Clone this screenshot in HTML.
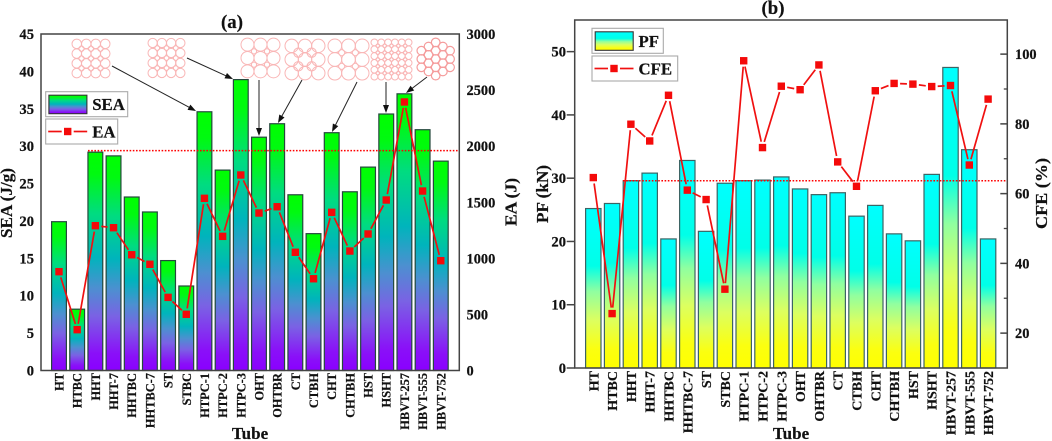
<!DOCTYPE html>
<html>
<head>
<meta charset="utf-8">
<style>
html,body{margin:0;padding:0;background:#fff;width:1052px;height:441px;overflow:hidden}
svg{display:block}
text{font-family:"Liberation Serif",serif;font-weight:bold;fill:#111;stroke:#111;stroke-width:.2}
</style>
</head>
<body>
<svg id="chart" width="1052" height="441" viewBox="0 0 1052 441" xmlns="http://www.w3.org/2000/svg">
<defs>
<linearGradient id="gradA" x1="0" y1="1" x2="0" y2="0">
<stop offset="0" stop-color="#8a00ff"/>
<stop offset="0.08" stop-color="#8a10f8"/>
<stop offset="0.25" stop-color="#7a62e4"/>
<stop offset="0.38" stop-color="#4c90d0"/>
<stop offset="0.52" stop-color="#00b4bc"/>
<stop offset="0.72" stop-color="#00dc80"/>
<stop offset="0.9" stop-color="#00fa10"/>
<stop offset="1" stop-color="#00ff00"/>
</linearGradient>
<linearGradient id="gradB" x1="0" y1="1" x2="0" y2="0">
<stop offset="0" stop-color="#ffff00"/>
<stop offset="0.12" stop-color="#fbff10"/>
<stop offset="0.3" stop-color="#dcff60"/>
<stop offset="0.48" stop-color="#90ffa0"/>
<stop offset="0.64" stop-color="#00ffe8"/>
<stop offset="1" stop-color="#00ffff"/>
</linearGradient>
</defs>
</svg>
<script>
var categories = ["HT","HTBC","HHT","HHT-7","HHTBC","HHTBC-7","ST","STBC","HTPC-1","HTPC-2","HTPC-3","OHT","OHTBR","CT","CTBH","CHT","CHTBH","HST","HSHT","HBVT-257","HBVT-555","HBVT-752"];
var seaValues = [19.9,8.2,29.2,28.7,23.2,21.2,14.7,11.3,34.6,26.8,38.9,31.2,33.0,23.5,18.3,31.8,23.9,27.2,34.3,37.0,32.2,28.0];
var eaValues = [881,364,1291,1273,1032,947,652,501,1535,1196,1743,1404,1460,1054,818,1410,1065,1217,1520,2394,1600,979];
var pfValues = [25.2,26.0,29.6,30.8,20.4,32.8,21.6,29.2,29.6,29.7,30.2,28.3,27.4,27.7,24.0,25.7,21.2,20.1,30.6,47.5,34.5,20.4];
var cfeValues = [64.6,25.6,79.9,75.1,88.2,61.0,58.3,32.6,98.1,73.2,90.8,89.8,96.9,69.1,62.1,89.5,91.6,91.4,90.7,91.0,68.2,87.1];
var seaTicks = [0,5,10,15,20,25,30,35,40,45];
var eaTicks = [0,500,1000,1500,2000,2500,3000];
var pfTicks = [0,10,20,30,40,50];
var cfeTicks = [20,40,60,80,100];
var cfeMinorTicks = [30,50,70,90];
var seaReference = 29.4;
var pfReference = 29.6;

var svg = document.getElementById('chart');
var NS = 'http://www.w3.org/2000/svg';
function el(tag, attrs, parent, txt){
  var e = document.createElementNS(NS, tag);
  for (var k in attrs) e.setAttribute(k, attrs[k]);
  if (txt !== undefined) e.textContent = txt;
  (parent || svg).appendChild(e);
  return e;
}
function linear(d0, d1, r0, r1){ return function(v){ return r0 + (v - d0) * (r1 - r0) / (d1 - d0); }; }
function band(first, step){ return function(i){ return first + i * step; }; }

var AXIS = '#444';

function drawPanel(p){
  var g = el('g', {});
  
  
  var n = categories.length;
  p.bars.forEach(function(v, i){
    var x = p.xs(i), y = p.yL(v);
    var b = el('rect', {x:x - p.bw/2, y:y, width:p.bw, height:p.yL(0) - y, fill:'url(#' + p.grad + ')', stroke:p.barStroke, 'stroke-width':1.2}, g);
    
    
  });
  var ref = el('line', {x1:p.refX0, x2:p.right, y1:p.yL(p.ref), y2:p.yL(p.ref), stroke:'#f00', 'stroke-width':1.5, 'stroke-dasharray':'1.6 1.6'}, g);
  
  

  var frame = el('rect', {x:p.left, y:p.top, width:p.right - p.left, height:p.bottom - p.top, fill:'none', stroke:AXIS, 'stroke-width':1.5}, g);
  
  

  for (var i = 0; i < n - 1; i++){
    var x0 = p.xs(i), y0 = p.yR(p.line[i]), x1 = p.xs(i + 1), y1 = p.yR(p.line[i + 1]);
    var dx = x1 - x0, dy = y1 - y0, len = Math.sqrt(dx*dx + dy*dy), t = 6;
    if (len > 2 * t){
      var seg = el('line', {x1:x0 + dx*t/len, y1:y0 + dy*t/len, x2:x1 - dx*t/len, y2:y1 - dy*t/len, stroke:'#f01010', 'stroke-width':1.7}, g);
      
      
    }
  }
  p.line.forEach(function(v, i){
    var m = el('rect', {x:p.xs(i) - 3.7, y:p.yR(v) - 3.7, width:7.4, height:7.4, fill:'#f40a0a'}, g);
    
    
  });

  categories.forEach(function(c, i){
    var t = el('text', {transform:'translate(' + (p.xs(i) + p.xlOff) + ',' + p.xlTop + ') rotate(-90)', 'text-anchor':'end', 'font-size':p.xlSize}, g, c);
    
    
  });
  p.leftTicks.forEach(function(v){
    var t = el('text', {x:p.leftLabelX, y:p.yL(v) + 5, 'text-anchor':'end', 'font-size':14.6}, g, v);
    
    
    if (p.ticks){
      var k = el('line', {x1:p.left - 8, x2:p.left, y1:p.yL(v), y2:p.yL(v), stroke:AXIS, 'stroke-width':1.5}, g);
      
      
    }
  });
  p.rightTicks.forEach(function(v){
    var t = el('text', {x:p.rightLabelX, y:p.yR(v) + 5, 'font-size':14.4}, g, v);
    
    
    if (p.ticks){
      var k = el('line', {x1:p.right - 7, x2:p.right, y1:p.yR(v), y2:p.yR(v), stroke:AXIS, 'stroke-width':1.5}, g);
      
      
    }
  });
  (p.rightMinor || []).forEach(function(v){
    var k = el('line', {x1:p.right - 3.5, x2:p.right, y1:p.yR(v), y2:p.yR(v), stroke:AXIS, 'stroke-width':1.3}, g);
    
    
  });

  var title = el('text', {x:p.titleX, y:p.titleY, 'text-anchor':'middle', 'font-size':18.8}, g, p.title);
  
  
  var xt = el('text', {x:p.xTitleX, y:439, 'text-anchor':'middle', 'font-size':17}, g, 'Tube');
  
  
  var yl = el('text', {transform:'translate(' + p.yLTitle[0] + ',' + p.yLTitle[1] + ') rotate(-90)', 'text-anchor':'middle', 'font-size':16.5, textLength:p.yLTitle[2], lengthAdjust:'spacingAndGlyphs'}, g, p.yLText);
  
  
  var yr = el('text', {transform:'translate(' + p.yRTitle[0] + ',' + p.yRTitle[1] + ') rotate(-90)', 'text-anchor':'middle', 'font-size':16.5, textLength:p.yRTitle[2], lengthAdjust:'spacingAndGlyphs'}, g, p.yRText);
  
  

  var L = p.legend;
  var lb1 = el('rect', {x:L.x, y:L.y1, width:L.w1, height:L.h1, fill:'#fff', stroke:'#aaa', 'stroke-width':1.1}, g);
  
  
  var sw = el('rect', {x:L.x + 3.2, y:L.y1 + 3.5, width:38, height:18.5, fill:'url(#' + p.grad + ')', stroke:'#333', 'stroke-width':1.1}, g);
  
  
  var lt1 = el('text', {x:L.x + 46.5, y:L.y1 + 18.5, 'font-size':16.8}, g, L.t1);
  
  
  var lb2 = el('rect', {x:L.x, y:L.y2, width:L.w2, height:L.h1, fill:'#fff', stroke:'#aaa', 'stroke-width':1.1}, g);
  
  
  var ly = L.y2 + 12.5, mx = L.x + 22;
  var ll1 = el('line', {x1:L.x + 2.5, x2:mx - 6, y1:ly, y2:ly, stroke:'#f01010', 'stroke-width':1.7}, g);
  
  
  var ll2 = el('line', {x1:mx + 6, x2:L.x + 41.5, y1:ly, y2:ly, stroke:'#f01010', 'stroke-width':1.7}, g);
  
  
  var lm = el('rect', {x:mx - 3.7, y:ly - 3.7, width:7.4, height:7.4, fill:'#f40a0a'}, g);
  
  
  var lt2 = el('text', {x:L.x + 46.5, y:L.y2 + 18.5, 'font-size':16.8}, g, L.t2);
  
  
}

drawPanel({
  id:'panel-a', title:'(a)', titleX:232, titleY:28, grad:'gradA', barStroke:'#24483c',
  left:41, right:459.3, top:34, bottom:370.5,
  xs:band(59, 18.18), bw:14.8,
  yL:linear(0, 45, 370.5, 34), yR:linear(0, 3000, 370.5, 34),
  bars:seaValues, line:eaValues, ref:seaReference, refX0:88,
  leftTicks:seaTicks, rightTicks:eaTicks, leftLabelX:34, rightLabelX:466.5, ticks:false,
  xlOff:4.5, xlTop:373, xlSize:12.4, xTitleX:250,
  yLText:'SEA (J/g)', yLTitle:[12,203,70], yRText:'EA (J)', yRTitle:[516.5,202,48],
  legend:{x:45.7, y1:91.7, w1:82, h1:25, y2:119, w2:72, t1:'SEA', t2:'EA'}
});
drawPanel({
  id:'panel-b', title:'(b)', titleX:773, titleY:14, grad:'gradB', barStroke:'#3c6464',
  left:574.7, right:1007.3, top:20, bottom:368,
  xs:band(593.3, 18.8), bw:15.4,
  yL:linear(0, 55, 368, 20), yR:linear(10, 110, 368, 19.25),
  bars:pfValues, line:cfeValues, ref:pfReference, refX0:623,
  leftTicks:pfTicks, rightTicks:cfeTicks, rightMinor:cfeMinorTicks, leftLabelX:566, rightLabelX:1015, ticks:true,
  xlOff:5, xlTop:371, xlSize:14, xTitleX:791,
  yLText:'PF (kN)', yLTitle:[548,194,58], yRText:'CFE (%)', yRTitle:[1047,193.5,71],
  legend:{x:592, y1:28.3, w1:71.3, h1:25, y2:56, w2:85.7, t1:'PF', t2:'CFE'}
});

var PINK = '#f9b6b6';
function drawInset(name, x, y, w, h, cols, rows, small){
  var g = el('g', {fill:'none', stroke:PINK, 'stroke-width':1});
  
  
  var dx = w / cols, dy = h / rows, r = Math.min(dx, dy) / 2;
  for (var i = 0; i < cols; i++){
    for (var j = 0; j < rows; j++){
      el('circle', {cx:x + dx*(i + .5), cy:y + dy*(j + .5), r:r}, g);
      if (small && i < cols - 1 && j < rows - 1){
        el('circle', {cx:x + dx*(i + 1), cy:y + dy*(j + 1), r:r * small}, g);
      }
    }
  }
}
function drawHexInset(name, cx, cy, r, s){
  var g = el('g', {fill:'none', stroke:'#f59c9c', 'stroke-width':1.2});
  
  
  for (var q = -2; q <= 2; q++){
    for (var t = -2; t <= 2; t++){
      if (Math.abs(q + t) > 2) continue;
      el('circle', {cx:cx + s*0.866*t, cy:cy + s*(q + t/2), r:r}, g);
    }
  }
}
drawInset('tube-inset-htpc-1', 72, 39, 38, 39, 4, 4, .55);
drawInset('tube-inset-htpc-3', 148, 38, 37, 40, 4, 4, .5);
drawInset('tube-inset-oht', 241, 38, 39, 40, 3, 3, .4);
drawInset('tube-inset-ohtbr', 285, 39, 40, 41, 3, 3, .7);
drawInset('tube-inset-cht', 328, 39, 41, 41, 3, 3, .45);
drawInset('tube-inset-hsht', 371, 39, 41, 41, 6, 6, .55);
drawHexInset('tube-inset-hbvt-257', 435.7, 59, 4.3, 8.3);

function drawArrow(name, x1, y1, x2, y2){
  var a = Math.atan2(y2 - y1, x2 - x1), L = 8, W = 3;
  var g = el('g', {});
  
  
  el('line', {x1:x1, y1:y1, x2:x2 - Math.cos(a)*L*.7, y2:y2 - Math.sin(a)*L*.7, stroke:'#222', 'stroke-width':1}, g);
  var bx = x2 - Math.cos(a)*L, by = y2 - Math.sin(a)*L;
  el('polygon', {points:x2 + ',' + y2 + ' ' + (bx - Math.sin(a)*W) + ',' + (by + Math.cos(a)*W) + ' ' + (bx + Math.sin(a)*W) + ',' + (by - Math.cos(a)*W), fill:'#111'}, g);
}
drawArrow('arrow-htpc-1', 112, 66, 196, 111);
drawArrow('arrow-htpc-3', 187, 58, 233, 79);
drawArrow('arrow-oht', 259, 80, 259, 136);
drawArrow('arrow-ohtbr', 302, 80, 278, 123);
drawArrow('arrow-cht', 357, 82, 332, 132);
drawArrow('arrow-hsht', 386, 82, 386, 113);
drawArrow('arrow-hbvt-257', 427, 77, 406, 93);
</script>
</body>
</html>
